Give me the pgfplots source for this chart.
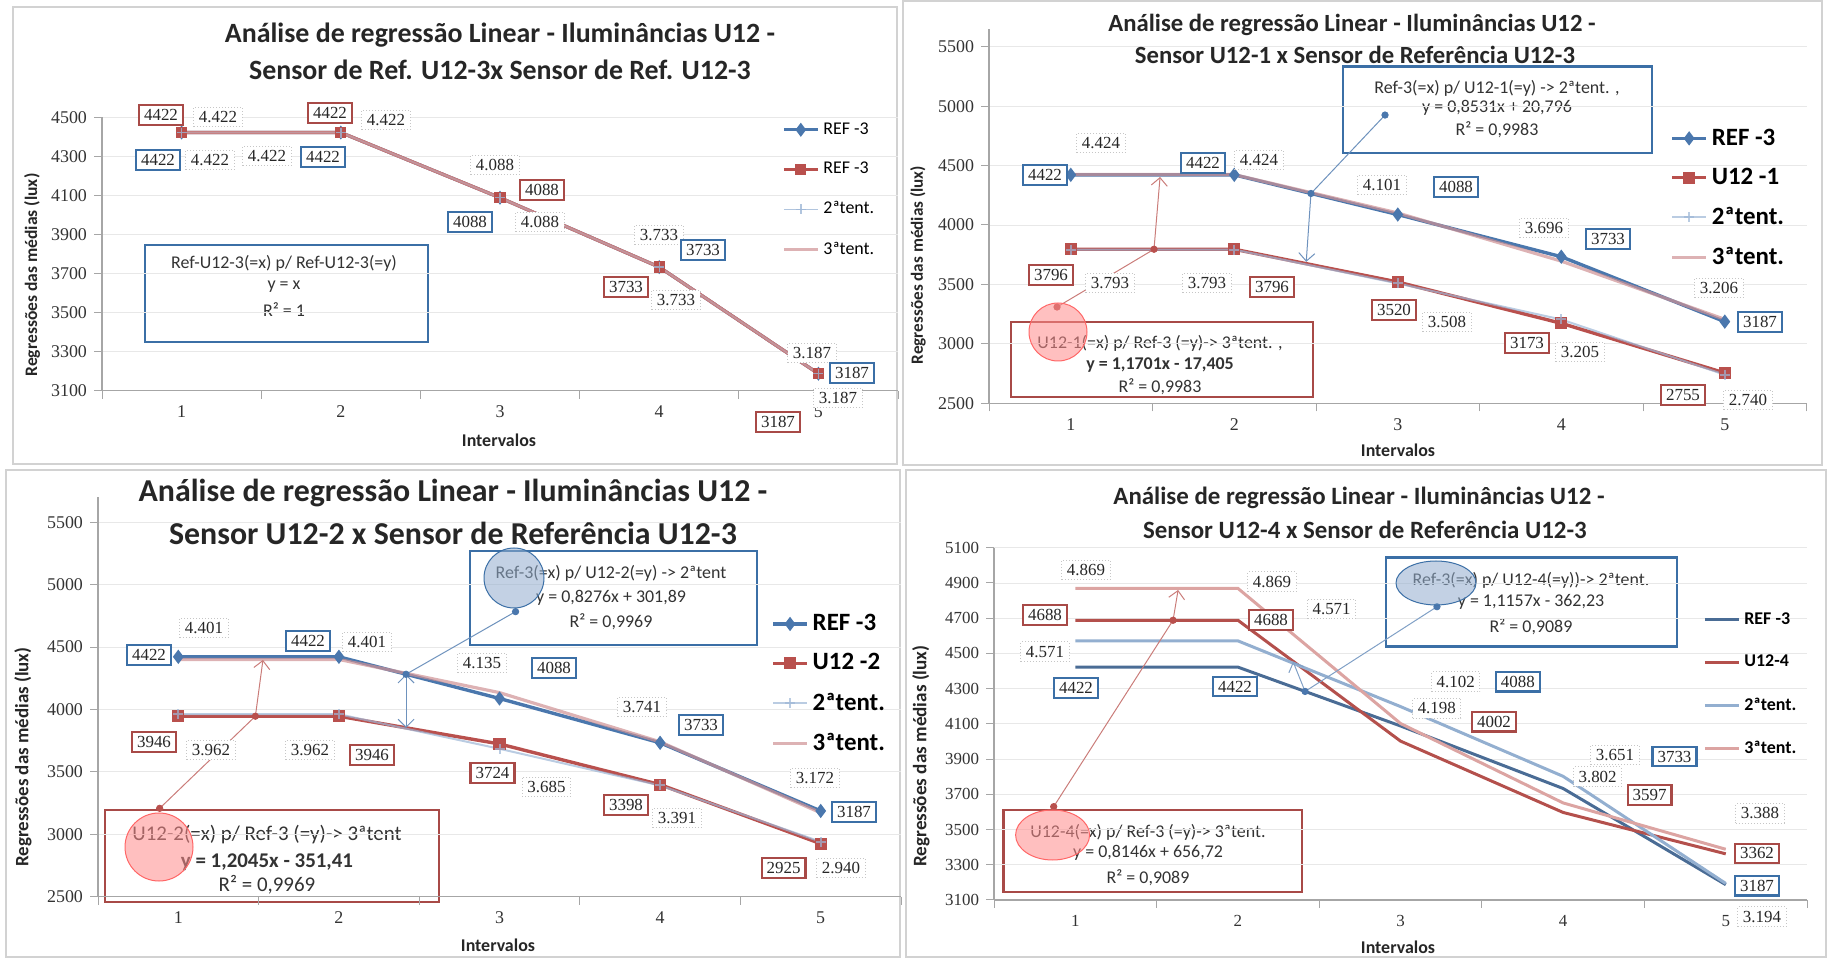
\documentclass[border=0pt]{standalone}
\usepackage{fontspec}
\setmainfont{Carlito}
\newfontfamily\tnr{Liberation Serif}
\usepackage{pgfplots}
\pgfplotsset{compat=1.18}
\usetikzlibrary{arrows.meta}
\definecolor{cref}{HTML}{4A77AD}
\definecolor{cu}{HTML}{B9504D}
\definecolor{ctwo}{HTML}{9DB6D6}
\definecolor{cthree}{HTML}{CF9294}
\definecolor{dref}{HTML}{4A6C95}
\definecolor{du}{HTML}{B4504C}
\definecolor{dtwo}{HTML}{93AFD0}
\definecolor{dthree}{HTML}{DCA4A2}
\definecolor{bbord}{HTML}{3B6FA6}
\definecolor{rbord}{HTML}{A84A47}
\pgfplotsset{
  base/.style={scale only axis, clip=false, anchor=south west,
    xmin=0.5, xmax=5.5, xtick={1,2,3,4,5},
    minor xtick={0.5,1.5,2.5,3.5,4.5,5.5},
    every major x tick/.append style={draw=none},
    every minor x tick/.append style={draw=gray!70, line width=0.5bp},
    tick align=outside, major tick length=4bp, minor tick length=4bp,
    axis x line*=bottom, axis y line*=left,
    axis line style={gray!70, line width=0.6bp, -},
    ytick style={draw=gray!70, line width=0.5bp},
    ymajorgrids, grid style={gray!18, line width=0.4bp},
    scaled y ticks=false,
    tick label style={font=\tnr\fontsize{9}{10}\selectfont, text=black!80},
    yticklabel style={/pgf/number format/1000 sep={}, /pgf/number format/assume math mode=true},
    xticklabel style={/pgf/number format/assume math mode=true},
    legend cell align=left,
    legend style={draw=none, fill=none, inner sep=0pt},
  },
  an/.style={line width=0.5bp, forget plot},
}
\tikzset{
  lab/.style={fill=white, inner xsep=2.5bp, inner ysep=2bp, font=\tnr\fontsize{8.5}{9}\selectfont, text=black!85},
  bbx/.style={lab, draw=bbord, line width=1.1bp},
  rbx/.style={lab, draw=rbord, line width=1.1bp},
  gbx/.style={lab, draw=gray!45, densely dotted, line width=0.5bp},
  ttl/.style={font=\bfseries\fontsize{#1}{#1}\selectfont, text=black!85},
  yl/.style={font=\bfseries\fontsize{#1}{#1}\selectfont, text=black!85, rotate=90},
  xl/.style={font=\bfseries\fontsize{9}{9}\selectfont, text=black!85},
  eq/.style={font=\fontsize{#1}{#1}\selectfont, text=black!80},
  rcirc/.style={fill=red!45, fill opacity=0.55, draw=red!60, line width=0.5bp},
  bcirc/.style={fill=cref!60, fill opacity=0.55, draw=bbord, line width=0.5bp},
}
\newcommand\bb[3]{\node[bbx] at (#1,958-#2) {#3};}
\newcommand\rb[3]{\node[rbx] at (#1,958-#2) {#3};}
\newcommand\gb[3]{\node[gbx] at (#1,958-#2) {#3};}
\begin{document}
\begin{tikzpicture}[x=0.5bp,y=0.5bp]
\useasboundingbox (0,0) rectangle (1827,958);
% panel frames
\draw[gray!35, line width=0.6bp] (13,958-7) rectangle (897,958-464);
\draw[gray!35, line width=0.6bp] (903,958-1) rectangle (1822,958-465);
\draw[gray!35, line width=0.6bp] (6,958-470) rectangle (900,958-957);
\draw[gray!35, line width=0.6bp] (906,958-470) rectangle (1826,958-957);
% regression boxes (background)
\draw[bbord, line width=1.2bp, fill=white] (145,958-245) rectangle (428,958-342);
\node[eq=9] at (284,958-263) {Ref-U12-3(=x) p/ Ref-U12-3(=y)};
\node[eq=9] at (284,958-287) {y = x};
\node[eq=9] at (284,958-310) {R² = 1};
\draw[bbord, line width=1.2bp, fill=white] (1343,958-66.7) rectangle (1652,958-153.3);
\node[eq=9] at (1497,958-88) {Ref-3(=x) p/ U12-1(=y) -> 2ªtent. ,};
\node[eq=9] at (1497,958-108) {y = 0,8531x + 20,796};
\node[eq=9] at (1497,958-130) {R² = 0,9983};
\draw[rbord, line width=1.2bp, fill=white] (1011,958-322) rectangle (1313,958-397);
\node[eq=9] at (1160,958-343) {U12-1(=x) p/ Ref-3 (=y)-> 3ªtent. ,};
\node[eq=9] at (1160,958-365) {\bfseries y = 1,1701x - 17,405};
\node[eq=9] at (1160,958-387) {R² = 0,9983};
\draw[bbord, line width=1.2bp, fill=white] (470,958-551) rectangle (757,958-645);
\node[eq=9] at (611,958-573) {Ref-3(=x) p/ U12-2(=y) -> 2ªtent};
\node[eq=9] at (611,958-598) {y = 0,8276x + 301,89};
\node[eq=9] at (611,958-622) {R² = 0,9969};
\draw[rbord, line width=1.2bp, fill=white] (105,958-810) rectangle (439,958-902);
\node[eq=10.5] at (267,958-835) {U12-2(=x) p/ Ref-3 (=y)-> 3ªtent};
\node[eq=10.5] at (267,958-862) {\bfseries y = 1,2045x - 351,41};
\node[eq=10.5] at (267,958-885) {R² = 0,9969};
\draw[bbord, line width=1.2bp, fill=white] (1386,958-557.7) rectangle (1677,958-646.7);
\node[eq=9] at (1531,958-580) {Ref-3(=x) p/ U12-4(=y))-> 2ªtent.};
\node[eq=9] at (1531,958-602) {y = 1,1157x - 362,23};
\node[eq=9] at (1531,958-627) {R² = 0,9089};
\draw[rbord, line width=1.2bp, fill=white] (1003.5,958-810) rectangle (1302,958-891.7);
\node[eq=9] at (1148,958-832) {U12-4(=x) p/ Ref-3 (=y)-> 3ªtent.};
\node[eq=9] at (1148,958-853) {y = 0,8146x + 656,72};
\node[eq=9] at (1148,958-878) {R² = 0,9089};

% ---------------- Panel 1
\begin{axis}[base, at={(51bp,283.65bp)}, width=398bp, height=136.7bp,
  ymin=3100, ymax=4500, ytick={3100,3300,...,4500},
  legend style={at={(0.854,0.997)}, anchor=north west, font=\fontsize{9}{10}\selectfont, row sep=8.5bp}]
\addplot[cref, line width=1.6bp, mark=diamond*, mark size=2.2bp] coordinates {(1,4422)(2,4422)(3,4088)(4,3733)(5,3187)};
\addlegendentry{REF -3}
\addplot[cu, line width=1.6bp, mark=square*, mark size=2bp] coordinates {(1,4422)(2,4422)(3,4088)(4,3733)(5,3187)};
\addlegendentry{REF -3}
\addplot[ctwo, line width=0.7bp, mark=+, mark size=2.5bp, opacity=0.8] coordinates {(1,4422)(2,4422)(3,4088)(4,3733)(5,3187)};
\addlegendentry{2ªtent.}
\addplot[cthree, line width=1.6bp, no marks, opacity=0.7] coordinates {(1,4422)(2,4422)(3,4088)(4,3733)(5,3187)};
\addlegendentry{3ªtent.}
\end{axis}

% ---------------- Panel 2
\begin{axis}[base, at={(494.5bp,277.35bp)}, width=408.75bp, height=187.2bp,
  ymin=2500, ymax=5650, ytick={2500,3000,...,5500},
  legend style={at={(0.833,0.745)}, anchor=north west, font=\bfseries\fontsize{12.5}{13}\selectfont, row sep=6bp}]
\addplot[cref, line width=1.7bp, mark=diamond*, mark size=2.2bp] coordinates {(1,4422)(2,4422)(3,4088)(4,3733)(5,3187)};
\addlegendentry{REF -3}
\addplot[cu, line width=1.7bp, mark=square*, mark size=2.2bp] coordinates {(1,3796)(2,3796)(3,3520)(4,3173)(5,2755)};
\addlegendentry{U12 -1}
\addplot[ctwo, line width=1.0bp, mark=+, mark size=2.5bp, opacity=0.7] coordinates {(1,3793)(2,3793)(3,3508)(4,3205)(5,2740)};
\addlegendentry{2ªtent.}
\addplot[cthree, line width=1.6bp, no marks, opacity=0.7] coordinates {(1,4424)(2,4424)(3,4101)(4,3696)(5,3206)};
\addlegendentry{3ªtent.}
\addplot[an, cref!80] coordinates {(2.922,4925)(2.469,4265)};
\addplot[an, cref!80, -{Straight Barb[length=4bp]}] coordinates {(2.469,4265)(2.44,3690)};
\addplot[an, cu!75] coordinates {(0.916,3310)(1.509,3796)};
\addplot[an, cu!75, -{Straight Barb[length=4bp]}] coordinates {(1.509,3796)(1.546,4404)};
\addplot[only marks, mark=*, mark size=1.6bp, cref, forget plot] coordinates {(2.922,4925)(2.469,4265)};
\addplot[only marks, mark=*, mark size=1.6bp, cu, forget plot] coordinates {(0.916,3310)(1.509,3796)};
\end{axis}

% ---------------- Panel 3
\begin{axis}[base, at={(49bp,30.65bp)}, width=401.5bp, height=199.7bp,
  ymin=2500, ymax=5700, ytick={2500,3000,...,5500},
  legend style={at={(0.838,0.718)}, anchor=north west, font=\bfseries\fontsize{12.5}{13}\selectfont, row sep=6bp}]
\addplot[cref, line width=1.7bp, mark=diamond*, mark size=2.2bp] coordinates {(1,4422)(2,4422)(3,4088)(4,3733)(5,3187)};
\addlegendentry{REF -3}
\addplot[cu, line width=1.7bp, mark=square*, mark size=2.2bp] coordinates {(1,3946)(2,3946)(3,3724)(4,3398)(5,2925)};
\addlegendentry{U12 -2}
\addplot[ctwo, line width=1.0bp, mark=+, mark size=2.5bp, opacity=0.7] coordinates {(1,3962)(2,3962)(3,3685)(4,3391)(5,2940)};
\addlegendentry{2ªtent.}
\addplot[cthree, line width=1.6bp, no marks, opacity=0.7] coordinates {(1,4401)(2,4401)(3,4135)(4,3741)(5,3172)};
\addlegendentry{3ªtent.}
\addplot[an, cref!80] coordinates {(3.10,4784)(2.418,4282)};
\addplot[an, cref!80, {Straight Barb[length=4bp]}-{Straight Barb[length=4bp]}] coordinates {(2.418,4282)(2.418,3852)};
\addplot[an, cu!75] coordinates {(0.884,3208)(1.48,3946)};
\addplot[an, cu!75, -{Straight Barb[length=4bp]}] coordinates {(1.48,3946)(1.527,4397)};
\addplot[only marks, mark=*, mark size=1.6bp, cref, forget plot] coordinates {(3.10,4784)(2.418,4282)};
\addplot[only marks, mark=*, mark size=1.6bp, cu, forget plot] coordinates {(0.884,3208)(1.48,3946)};
\end{axis}

% ---------------- Panel 4
\begin{axis}[base, at={(497bp,29bp)}, width=406.5bp, height=176.15bp,
  ymin=3100, ymax=5100, ytick={3100,3300,...,5100},
  tick label style={font=\tnr\fontsize{8.5}{9}\selectfont},
  legend style={at={(0.872,0.829)}, anchor=north west, font=\bfseries\fontsize{9}{10}\selectfont, row sep=10bp}]
\addplot[dref, line width=1.5bp, no marks] coordinates {(1,4422)(2,4422)(3,4088)(4,3733)(5,3187)};
\addlegendentry{REF -3}
\addplot[du, line width=1.5bp, no marks] coordinates {(1,4688)(2,4688)(3,4002)(4,3597)(5,3362)};
\addlegendentry{U12-4}
\addplot[dtwo, line width=1.5bp, no marks] coordinates {(1,4571)(2,4571)(3,4198)(4,3802)(5,3194)};
\addlegendentry{2ªtent.}
\addplot[dthree, line width=1.5bp, no marks] coordinates {(1,4869)(2,4869)(3,4102)(4,3651)(5,3388)};
\addlegendentry{3ªtent.}
\addplot[an, cref!70] coordinates {(3.224,4765)(2.413,4284)};
\addplot[an, cref!70, -{Straight Barb[length=4bp]}] coordinates {(2.413,4284)(2.339,4453)};
\addplot[an, cu!75] coordinates {(0.867,3630)(1.601,4688)};
\addplot[an, cu!75, -{Straight Barb[length=4bp]}] coordinates {(1.601,4688)(1.632,4860)};
\addplot[only marks, mark=*, mark size=1.6bp, cref, forget plot] coordinates {(3.224,4765)(2.413,4284)};
\addplot[only marks, mark=*, mark size=1.6bp, cu, forget plot] coordinates {(0.867,3630)(1.601,4688)};
\end{axis}

% titles and axis labels
\node[ttl=14] at (500,958-35) {Análise de regressão Linear - Iluminâncias U12 -};
\node[ttl=14] at (500,958-70) {Sensor de Ref. U12-3x Sensor de Ref. U12-3};
\node[ttl=12.4] at (1352,958-25) {Análise de regressão Linear - Iluminâncias U12 -};
\node[ttl=12.4] at (1355,958-55) {Sensor U12-1 x Sensor de Referência U12-3};
\node[ttl=16] at (453,958-493) {Análise de regressão Linear - Iluminâncias U12 -};
\node[ttl=16] at (453,958-533) {Sensor U12-2 x Sensor de Referência U12-3};
\node[ttl=12.5] at (1359,958-498) {Análise de regressão Linear - Iluminâncias U12 -};
\node[ttl=12.5] at (1365,958-530) {Sensor U12-4 x Sensor de Referência U12-3};
\node[yl=8.8] at (32,958-275) {Regressões das médias (lux)};
\node[yl=8.6] at (918,958-265) {Regressões das médias (lux)};
\node[yl=9.5] at (23,958-757) {Regressões das médias (lux)};
\node[yl=9.6] at (921,958-756) {Regressões das médias (lux)};
\node[xl] at (499,958-440) {Intervalos};
\node[xl] at (1398,958-450) {Intervalos};
\node[xl] at (498,958-945) {Intervalos};
\node[xl] at (1398,958-947) {Intervalos};

% data labels panel 1
\rb{161}{115}{4422} \gb{218}{117}{4.422} \bb{158}{160}{4422} \gb{210}{160}{4.422}
\gb{267}{156}{4.422} \bb{323}{157}{4422} \rb{330}{113}{4422} \gb{386}{120}{4.422}
\gb{495}{165}{4.088} \rb{542}{190}{4088} \bb{470}{222}{4088} \gb{540}{222}{4.088}
\gb{659}{235}{3.733} \bb{703}{250}{3733} \rb{626}{287}{3733} \gb{676}{300}{3.733}
\gb{812}{353}{3.187} \bb{852}{373}{3187} \gb{838}{398}{3.187} \rb{778}{422}{3187}
% panel 2
\gb{1101}{143}{4.424} \bb{1045}{175}{4422} \bb{1203}{163}{4422} \gb{1259}{160}{4.424}
\gb{1382}{185}{4.101} \bb{1456}{187}{4088} \gb{1544}{228}{3.696} \bb{1608}{239}{3733}
\gb{1719}{288}{3.206} \bb{1760}{322}{3187}
\rb{1051}{275}{3796} \gb{1110}{283}{3.793} \gb{1207}{283}{3.793} \rb{1272}{287}{3796}
\rb{1394}{310}{3520} \gb{1447}{322}{3.508} \rb{1527}{343}{3173} \gb{1580}{352}{3.205}
\rb{1683}{395}{2755} \gb{1748}{400}{2.740}
% panel 3
\gb{204}{628}{4.401} \bb{149}{655}{4422} \bb{308}{641}{4422} \gb{367}{642}{4.401}
\gb{482}{663}{4.135} \bb{554}{668}{4088} \gb{642}{707}{3.741} \bb{701}{725}{3733}
\gb{815}{778}{3.172} \bb{854}{812}{3187}
\rb{154}{742}{3946} \gb{211}{750}{3.962} \gb{310}{750}{3.962} \rb{372}{755}{3946}
\rb{492.5}{773}{3724} \gb{546.5}{787}{3.685} \rb{626}{805}{3398} \gb{677}{818}{3.391}
\rb{783.6}{868}{2925} \gb{841}{868}{2.940}
% panel 4
\gb{1086}{570}{4.869} \gb{1272}{581.7}{4.869} \rb{1045}{615}{4688} \rb{1271}{620}{4688}
\gb{1331.6}{609}{4.571} \gb{1045}{651.7}{4.571} \bb{1076}{688}{4422} \bb{1235}{686.7}{4422}
\gb{1455.7}{681.7}{4.102} \bb{1517.8}{681.7}{4088} \gb{1436.8}{708.3}{4.198} \rb{1494}{721.7}{4002}
\gb{1615}{755}{3.651} \bb{1674.5}{756.7}{3733} \gb{1597.6}{776.7}{3.802} \rb{1649.6}{795}{3597}
\gb{1760}{813.3}{3.388} \rb{1757}{853.3}{3362} \bb{1757}{885.7}{3187} \gb{1762}{916.7}{3.194}

% translucent circles
\draw[rcirc] (1058,958-332) circle (29);
\draw[rcirc] (159,958-847) circle (34);
\draw[bcirc] (514,958-578) circle (30);
\draw[rcirc] (1052.6,958-835) ellipse (37 and 25);
\draw[bcirc] (1436,958-583) ellipse (40 and 22);
\end{tikzpicture}
\end{document}
